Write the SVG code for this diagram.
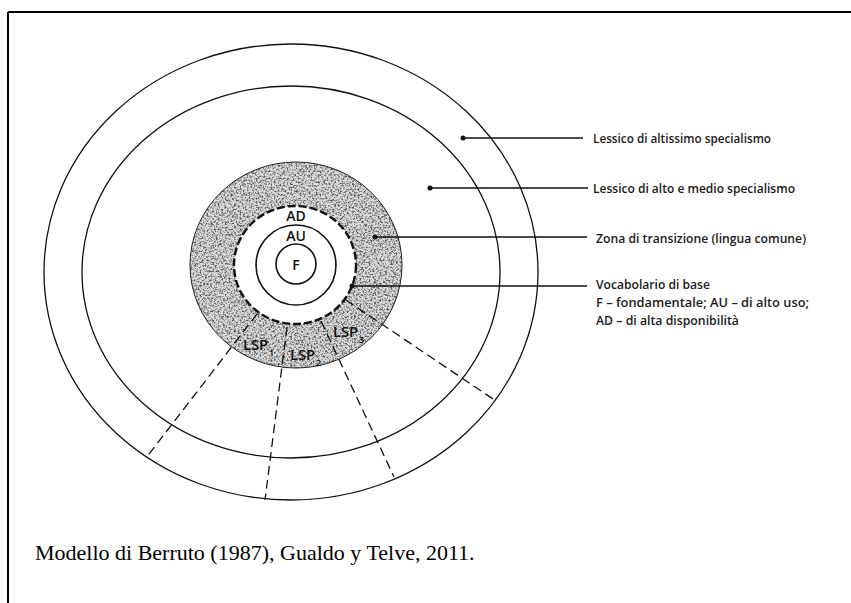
<svg xmlns="http://www.w3.org/2000/svg" width="851" height="603" viewBox="0 0 851 603">
<style>
.ring{fill:none;stroke:#111;stroke-width:1.3}
.core{fill:none;stroke:#111;stroke-width:1.6}
.ad{fill:none;stroke:#111;stroke-width:2.4;stroke-dasharray:8 3}
.rad{fill:none;stroke:#111;stroke-width:1.3;stroke-dasharray:9 5}
.lead{stroke:#111;stroke-width:1.3}
.dot{fill:#111}
.lbl{font-family:"Open Sans","Liberation Sans",Arial,sans-serif;font-size:13px;font-weight:600;fill:#1a1a1a}
.ctr{font-family:"Open Sans","Liberation Sans",Arial,sans-serif;font-size:14px;font-weight:600;fill:#111;text-anchor:middle}
.lsp{font-family:"Open Sans","Liberation Sans",Arial,sans-serif;font-size:14px;font-weight:600;fill:#111}
.sub{font-family:"Open Sans","Liberation Sans",Arial,sans-serif;font-size:9px;font-weight:600;fill:#111}
.cap{font-family:"Liberation Serif","Times New Roman",serif;font-size:22px;fill:#000}
</style>
<defs>
<filter id="grain" x="0%" y="0%" width="100%" height="100%">
<feTurbulence type="fractalNoise" baseFrequency="0.55" numOctaves="3" seed="7" result="noise"/>
<feColorMatrix in="noise" type="matrix" values="0 0 0 0 0.1  0 0 0 0 0.1  0 0 0 0 0.1  3.4 0 0 0 -1.5" result="dots"/>
<feComposite in="dots" in2="SourceAlpha" operator="in"/>
</filter>
</defs>
<rect width="851" height="603" fill="#fff"/>
<g id="frame">
<line x1="8" y1="12" x2="851" y2="12" stroke="#000" stroke-width="2"/>
<line x1="8" y1="12" x2="8" y2="603" stroke="#000" stroke-width="2"/>
</g>
<g id="outer-ring">
<ellipse class="ring" cx="291" cy="272" rx="247" ry="228"/>
</g>
<g id="middle-ring">
<ellipse class="ring" cx="291" cy="272" rx="209" ry="186"/>
</g>
<g id="transition-zone">
<path d="M190,265 a106,103 0 1,0 212,0 a106,103 0 1,0 -212,0 Z M234,265 a61,59 0 1,0 122,0 a61,59 0 1,0 -122,0 Z" fill="#dadada" fill-rule="evenodd"/>
<path d="M190,265 a106,103 0 1,0 212,0 a106,103 0 1,0 -212,0 Z M234,265 a61,59 0 1,0 122,0 a61,59 0 1,0 -122,0 Z" fill="#000" fill-rule="evenodd" filter="url(#grain)"/>
<ellipse cx="296" cy="265" rx="106" ry="103" fill="none" stroke="#222" stroke-width="1"/>
</g>
<g id="AD">
<ellipse class="ad" cx="295" cy="265" rx="61" ry="59"/>
<text class="ctr" x="296" y="221">AD</text>
</g>
<g id="AU">
<circle class="core" cx="296" cy="265" r="40"/>
<text class="ctr" x="296" y="241">AU</text>
</g>
<g id="F">
<circle class="core" cx="296" cy="264" r="20"/>
<text class="ctr" x="296" y="270">F</text>
</g>
<g id="connectors">
<line class="rad" x1="257" y1="314" x2="146" y2="458"/>
<line class="rad" x1="287" y1="327" x2="265" y2="500"/>
<line class="rad" x1="321" y1="321" x2="394" y2="477"/>
<line class="rad" x1="346" y1="300" x2="493" y2="399"/>
<line class="lead" x1="463" y1="138" x2="583" y2="138"/>
<line class="lead" x1="430" y1="188" x2="588" y2="188"/>
<line class="lead" x1="375" y1="237" x2="587" y2="237"/>
<line class="lead" x1="352" y1="286" x2="587" y2="286"/>
<circle class="dot" cx="463" cy="138" r="2.5"/>
<circle class="dot" cx="430" cy="188" r="2.5"/>
<circle class="dot" cx="375" cy="237" r="2.5"/>
<circle class="dot" cx="352" cy="286" r="2.5"/>
</g>
<g id="LSP1"><text class="lsp" x="243" y="350" textLength="25" lengthAdjust="spacingAndGlyphs">LSP</text><text class="sub" x="269" y="356">1</text></g>
<g id="LSP2"><text class="lsp" x="290" y="360" textLength="25" lengthAdjust="spacingAndGlyphs">LSP</text><text class="sub" x="316" y="366">2</text></g>
<g id="LSP3"><text class="lsp" x="333" y="337" textLength="25" lengthAdjust="spacingAndGlyphs">LSP</text><text class="sub" x="359" y="343">3</text></g>
<g id="label-altissimo"><text class="lbl" x="593" y="143" textLength="178" lengthAdjust="spacingAndGlyphs">Lessico di altissimo specialismo</text></g>
<g id="label-alto-medio"><text class="lbl" x="593" y="193" textLength="202" lengthAdjust="spacingAndGlyphs">Lessico di alto e medio specialismo</text></g>
<g id="label-transizione"><text class="lbl" x="596" y="243" textLength="210" lengthAdjust="spacingAndGlyphs">Zona di transizione (lingua comune)</text></g>
<g id="label-base"><text class="lbl" x="596" y="289" textLength="114" lengthAdjust="spacingAndGlyphs">Vocabolario di base</text><text class="lbl" x="596" y="307" textLength="213" lengthAdjust="spacingAndGlyphs">F – fondamentale; AU – di alto uso;</text><text class="lbl" x="596" y="325" textLength="143" lengthAdjust="spacingAndGlyphs">AD – di alta disponibilità</text></g>
<g id="caption"><text class="cap" x="35" y="560">Modello di Berruto (1987), Gualdo y Telve, 2011.</text></g>
</svg>
